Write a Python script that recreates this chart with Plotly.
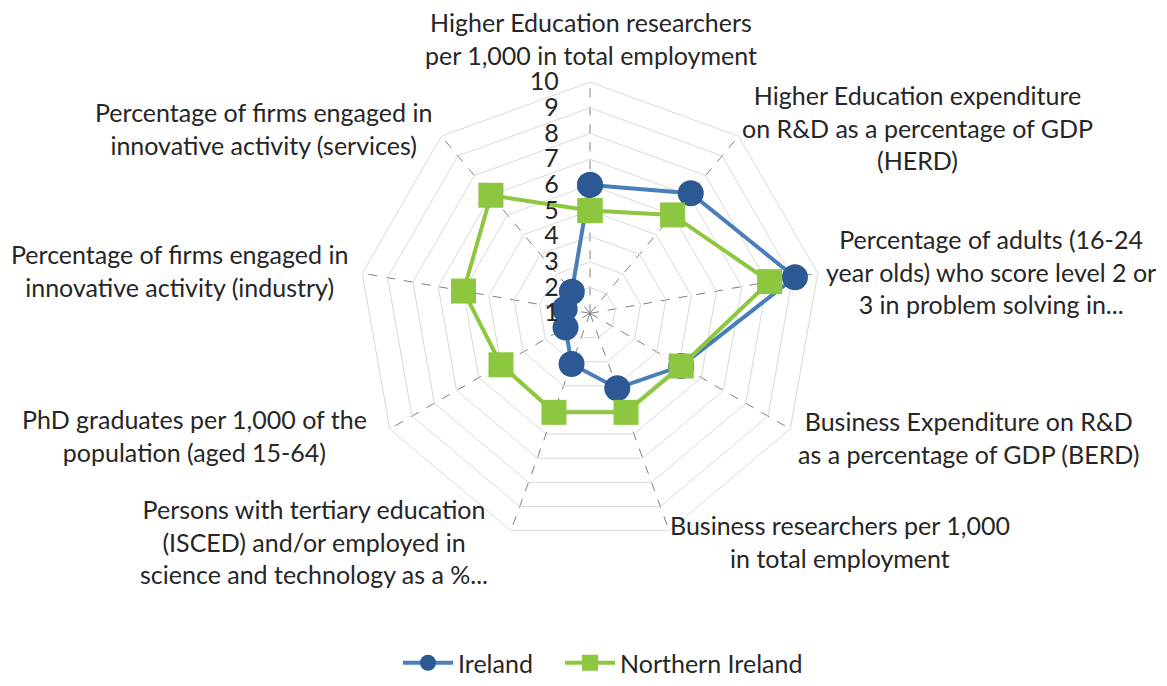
import plotly.graph_objects as go

categories = [
    "Higher Education researchers<br>per 1,000 in total employment",
    "Higher Education expenditure<br>on R&D as a percentage of GDP<br>(HERD)",
    "Percentage of adults (16-24<br>year olds) who score level 2 or<br>3 in problem solving in...",
    "Business Expenditure on R&D<br>as a percentage of GDP (BERD)",
    "Business researchers per 1,000<br>in total employment",
    "Persons with tertiary education<br>(ISCED) and/or employed in<br>science and technology as a %...",
    "PhD graduates per 1,000 of the<br>population (aged 15-64)",
    "Percentage of firms engaged in<br>innovative activity (industry)",
    "Percentage of firms engaged in<br>innovative activity (services)",
]
ireland = [6.0, 7.1, 9.1, 5.1, 4.1, 3.1, 2.1, 2.0, 2.1]
northern_ireland = [5.0, 6.0, 8.1, 5.1, 5.1, 5.1, 5.0, 6.0, 7.0]
radial_ticks = [1, 2, 3, 4, 5, 6, 7, 8, 9, 10]

# page has an 8px body margin: build the figure 8px smaller and work in screen coords
OFF = 8
W, H = 1167 - OFF, 686 - OFF
FONT = "Lato"
FS = 25


def px_x(x):
    return (x - OFF) / W


def px_y(y):
    return 1 - (y - OFF) / H


# label placement (screen pixel centres)
label_pos = [(591, 39), (917, 129), (991, 275), (968, 443), (840, 548),
             (314, 548), (194, 441), (179, 274), (263, 130)]

fig = go.Figure()
fig.add_trace(go.Scatterpolar(
    r=ireland + ireland[:1], theta=categories + categories[:1],
    mode="lines+markers", name="Ireland", legend="legend", showlegend=True,
    line=dict(color="#4A7EBB", width=4),
    marker=dict(symbol="circle", size=26, color="#2C5893"),
))
fig.add_trace(go.Scatterpolar(
    r=northern_ireland + northern_ireland[:1], theta=categories + categories[:1],
    mode="lines+markers", name="Northern Ireland", legend="legend2", showlegend=True,
    line=dict(color="#8DC63F", width=4),
    marker=dict(symbol="square", size=25, color="#8DC63F"),
))

cx, cy, R = 590, 317, 234
legend_style = dict(orientation="h", xanchor="left", yanchor="middle", y=px_y(671),
                    font=dict(size=FS, color="#262626"), itemwidth=50,
                    bgcolor="rgba(0,0,0,0)")
fig.update_layout(
    width=W, height=H,
    margin=dict(l=0, r=0, t=0, b=0),
    paper_bgcolor="white",
    showlegend=True,
    font=dict(family=FONT, size=FS, color="#262626"),
    polar=dict(
        domain=dict(x=[px_x(cx - R), px_x(cx + R)], y=[px_y(cy + R), px_y(cy - R)]),
        bgcolor="white",
        gridshape="linear",
        radialaxis=dict(
            range=[1, 10], tickvals=radial_ticks, ticktext=[str(v) for v in radial_ticks],
            angle=90, tickangle=90, side="counterclockwise",
            showline=False, ticks="outside", ticklen=22, tickcolor="rgba(0,0,0,0)",
            gridcolor="#D9D9D9", gridwidth=1,
            tickfont=dict(size=FS, color="#262626"),
        ),
        angularaxis=dict(
            type="category", categoryorder="array", categoryarray=categories,
            rotation=90, direction="clockwise",
            showticklabels=False, ticks="",
            gridcolor="#808080", griddash="dash", gridwidth=1,
            showline=True, linecolor="#D9D9D9", linewidth=1,
        ),
    ),
    legend=dict(x=px_x(398), **legend_style),
    legend2=dict(x=px_x(560), **legend_style),
)

for text, (px, py) in zip(categories, label_pos):
    fig.add_annotation(x=px_x(px), y=px_y(py), xref="paper", yref="paper",
                       text=text, showarrow=False, xanchor="center", yanchor="middle",
                       align="center", font=dict(size=FS, color="#262626", family=FONT))

fig.write_html("out.html")
